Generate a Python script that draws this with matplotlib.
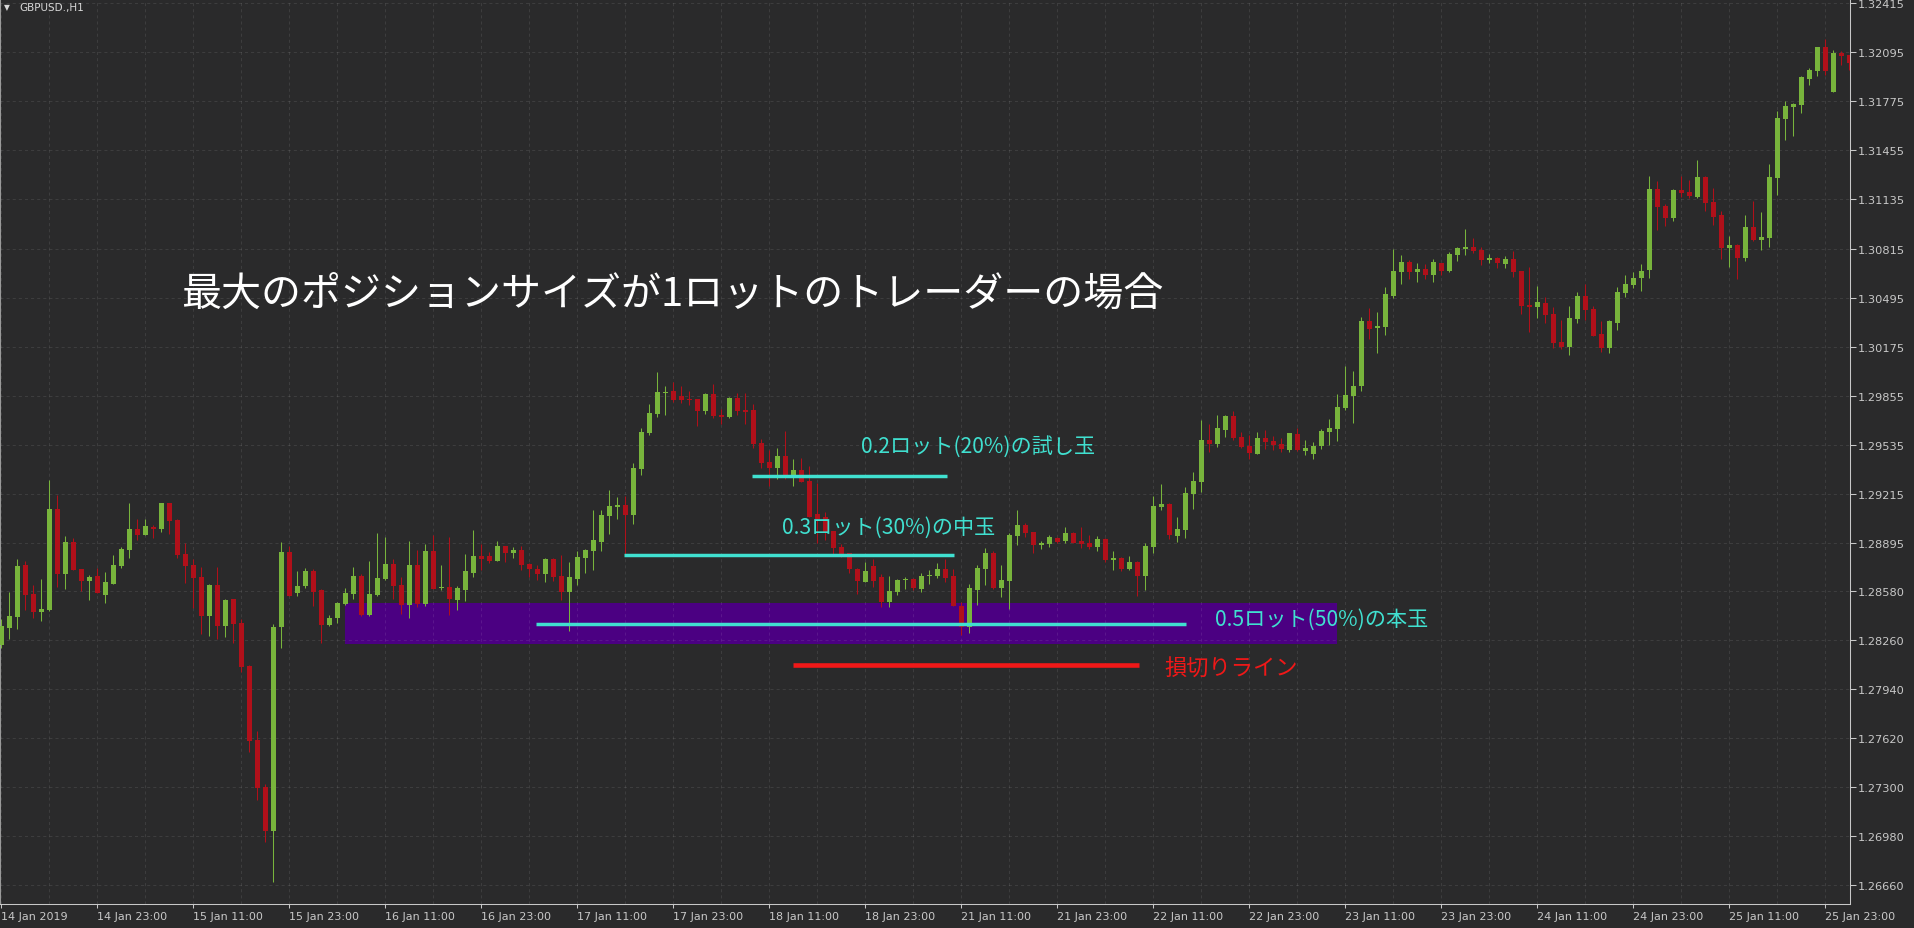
import matplotlib
matplotlib.use('Agg')
import matplotlib.pyplot as plt
import numpy as np

# GBPUSD H1, one bar per hour starting 14 Jan 2019 11:00 (weekend skipped)
opens = [
    1.28230, 1.28339, 1.28413, 1.28750, 1.28561, 1.28445, 1.28456, 1.29115, 1.28693, 1.28900,
    1.28724, 1.28647, 1.28678, 1.28556, 1.28628, 1.28743, 1.28850, 1.28985, 1.28948, 1.28998,
    1.28985, 1.29154, 1.29043, 1.28822, 1.28750, 1.28672, 1.28419, 1.28619, 1.28354, 1.28528,
    1.28371, 1.28091, 1.27608, 1.27301, 1.27016, 1.28345, 1.28835, 1.28569, 1.28613, 1.28711,
    1.28587, 1.28360, 1.28406, 1.28497, 1.28563, 1.28678, 1.28426, 1.28556, 1.28661, 1.28756,
    1.28619, 1.28491, 1.28750, 1.28497, 1.28841, 1.28598, 1.28606, 1.28523, 1.28589, 1.28700,
    1.28809, 1.28809, 1.28778, 1.28874, 1.28830, 1.28848, 1.28756, 1.28724, 1.28693, 1.28789,
    1.28678, 1.28576, 1.28661, 1.28798, 1.28843, 1.28902, 1.29072, 1.29130, 1.29143, 1.29078,
    1.29378, 1.29613, 1.29737, 1.29872, 1.29885, 1.29853, 1.29835, 1.29833, 1.29757, 1.29866,
    1.29724, 1.29718, 1.29840, 1.29761, 1.29761, 1.29546, 1.29424, 1.29385, 1.29461, 1.29326,
    1.29370, 1.29298, 1.29083, 1.29063, 1.28970, 1.28867, 1.28828, 1.28724, 1.28641, 1.28743,
    1.28672, 1.28510, 1.28576, 1.28650, 1.28659, 1.28595, 1.28676, 1.28676, 1.28724, 1.28678,
    1.28482, 1.28347, 1.28589, 1.28724, 1.28828, 1.28600, 1.28646, 1.28941, 1.29011, 1.28965,
    1.28882, 1.28889, 1.28926, 1.28907, 1.28959, 1.28907, 1.28895, 1.28869, 1.28922, 1.28784,
    1.28798, 1.28726, 1.28769, 1.28680, 1.28869, 1.29130, 1.29148, 1.28941, 1.28980, 1.29215,
    1.29294, 1.29566, 1.29539, 1.29633, 1.29722, 1.29587, 1.29528, 1.29476, 1.29579, 1.29559,
    1.29539, 1.29502, 1.29605, 1.29496, 1.29474, 1.29526, 1.29618, 1.29637, 1.29774, 1.29853,
    1.29918, 1.30342, 1.30296, 1.30303, 1.30505, 1.30662, 1.30727, 1.30662, 1.30681, 1.30642,
    1.30720, 1.30668, 1.30773, 1.30812, 1.30825, 1.30805, 1.30740, 1.30753, 1.30714, 1.30747,
    1.30668, 1.30446, 1.30433, 1.30460, 1.30388, 1.30205, 1.30174, 1.30355, 1.30505, 1.30420,
    1.30257, 1.30166, 1.30329, 1.30525, 1.30577, 1.30623, 1.30675, 1.31203, 1.31092, 1.31014,
    1.31197, 1.31184, 1.31151, 1.31282, 1.31119, 1.31034, 1.30818, 1.30838, 1.30753, 1.30955,
    1.30871, 1.30884, 1.31275, 1.31660, 1.31738, 1.31751, 1.31921, 1.31973, 1.32130, 1.31836,
    1.32091, 1.32078]
highs = [
    1.28398, 1.28576, 1.28789, 1.28776, 1.28619, 1.28659, 1.29305, 1.29207, 1.28939, 1.28926,
    1.28724, 1.28685, 1.28732, 1.28704, 1.28815, 1.28867, 1.29154, 1.29050, 1.29050, 1.29011,
    1.29154, 1.29154, 1.29050, 1.28893, 1.28789, 1.28737, 1.28626, 1.28737, 1.28528, 1.28528,
    1.28398, 1.28097, 1.27667, 1.27321, 1.28365, 1.28900, 1.28874, 1.28711, 1.28730, 1.28724,
    1.28593, 1.28424, 1.28509, 1.28600, 1.28737, 1.28691, 1.28776, 1.28959, 1.28933, 1.28789,
    1.28670, 1.28907, 1.28848, 1.28887, 1.28946, 1.28750, 1.28933, 1.28613, 1.28822, 1.28978,
    1.28887, 1.28835, 1.28907, 1.28874, 1.28867, 1.28874, 1.28763, 1.28750, 1.28796, 1.28796,
    1.28815, 1.28769, 1.28841, 1.28854, 1.29109, 1.29109, 1.29239, 1.29194, 1.29200, 1.29415,
    1.29644, 1.29800, 1.30009, 1.29918, 1.29942, 1.29918, 1.29885, 1.29833, 1.29872, 1.29931,
    1.29768, 1.29846, 1.29872, 1.29872, 1.29800, 1.29572, 1.29500, 1.29513, 1.29624, 1.29442,
    1.29448, 1.29396, 1.29287, 1.29094, 1.28974, 1.28887, 1.28828, 1.28728, 1.28769, 1.28789,
    1.28689, 1.28678, 1.28661, 1.28672, 1.28665, 1.28698, 1.28717, 1.28763, 1.28789, 1.28724,
    1.28509, 1.28626, 1.28750, 1.28861, 1.28841, 1.28750, 1.28959, 1.29109, 1.29024, 1.28965,
    1.28907, 1.28946, 1.28933, 1.28998, 1.28963, 1.28998, 1.28946, 1.28937, 1.28928, 1.28841,
    1.28804, 1.28809, 1.28776, 1.28895, 1.29200, 1.29278, 1.29154, 1.29063, 1.29259, 1.29357,
    1.29696, 1.29670, 1.29729, 1.29729, 1.29755, 1.29620, 1.29600, 1.29620, 1.29633, 1.29594,
    1.29581, 1.29611, 1.29644, 1.29566, 1.29552, 1.29637, 1.29703, 1.29866, 1.30048, 1.30016,
    1.30368, 1.30427, 1.30401, 1.30564, 1.30812, 1.30773, 1.30740, 1.30720, 1.30714, 1.30747,
    1.30720, 1.30792, 1.30825, 1.30942, 1.30884, 1.30825, 1.30779, 1.30760, 1.30766, 1.30799,
    1.30668, 1.30694, 1.30570, 1.30499, 1.30433, 1.30349, 1.30440, 1.30531, 1.30584, 1.30440,
    1.30342, 1.30349, 1.30564, 1.30642, 1.30662, 1.30714, 1.31288, 1.31256, 1.31105, 1.31203,
    1.31288, 1.31262, 1.31393, 1.31288, 1.31210, 1.31060, 1.30897, 1.30844, 1.31034, 1.31125,
    1.31053, 1.31366, 1.31712, 1.31778, 1.31764, 1.31941, 1.31993, 1.32130, 1.32182, 1.32110,
    1.32104, 1.32078]
lows = [
    1.28208, 1.28267, 1.28332, 1.28456, 1.28404, 1.28385, 1.28450, 1.28608, 1.28593, 1.28715,
    1.28578, 1.28522, 1.28565, 1.28502, 1.28628, 1.28730, 1.28796, 1.28913, 1.28948, 1.28926,
    1.28965, 1.28952, 1.28796, 1.28632, 1.28469, 1.28300, 1.28287, 1.28267, 1.28280, 1.28241,
    1.28054, 1.27530, 1.27217, 1.26942, 1.26681, 1.28208, 1.28550, 1.28548, 1.28600, 1.28484,
    1.28241, 1.28354, 1.28373, 1.28491, 1.28528, 1.28419, 1.28419, 1.28550, 1.28654, 1.28530,
    1.28430, 1.28406, 1.28478, 1.28484, 1.28595, 1.28589, 1.28426, 1.28458, 1.28517, 1.28674,
    1.28719, 1.28761, 1.28778, 1.28771, 1.28798, 1.28715, 1.28674, 1.28654, 1.28641, 1.28647,
    1.28523, 1.28321, 1.28621, 1.28700, 1.28719, 1.28843, 1.28954, 1.29052, 1.28817, 1.29019,
    1.29339, 1.29600, 1.29718, 1.29731, 1.29815, 1.29809, 1.29796, 1.29659, 1.29737, 1.29711,
    1.29672, 1.29711, 1.29731, 1.29672, 1.29513, 1.29385, 1.29267, 1.29313, 1.29313, 1.29267,
    1.29294, 1.29065, 1.28893, 1.28915, 1.28807, 1.28804, 1.28700, 1.28563, 1.28637, 1.28606,
    1.28478, 1.28478, 1.28556, 1.28591, 1.28587, 1.28576, 1.28628, 1.28663, 1.28641, 1.28480,
    1.28295, 1.28308, 1.28491, 1.28619, 1.28593, 1.28541, 1.28463, 1.28882, 1.28935, 1.28830,
    1.28856, 1.28869, 1.28895, 1.28895, 1.28893, 1.28863, 1.28856, 1.28843, 1.28771, 1.28719,
    1.28713, 1.28719, 1.28550, 1.28589, 1.28830, 1.29111, 1.28922, 1.28902, 1.28928, 1.29117,
    1.29228, 1.29489, 1.29522, 1.29587, 1.29567, 1.29515, 1.29444, 1.29476, 1.29509, 1.29502,
    1.29489, 1.29489, 1.29496, 1.29470, 1.29442, 1.29507, 1.29533, 1.29559, 1.29761, 1.29677,
    1.29885, 1.30225, 1.30133, 1.30251, 1.30492, 1.30584, 1.30616, 1.30597, 1.30616, 1.30597,
    1.30642, 1.30662, 1.30734, 1.30773, 1.30786, 1.30707, 1.30720, 1.30688, 1.30688, 1.30629,
    1.30388, 1.30270, 1.30362, 1.30329, 1.30166, 1.30159, 1.30120, 1.30329, 1.30349, 1.30246,
    1.30140, 1.30133, 1.30283, 1.30499, 1.30557, 1.30538, 1.30623, 1.30936, 1.30962, 1.30995,
    1.31153, 1.31145, 1.31145, 1.31060, 1.30968, 1.30747, 1.30694, 1.30616, 1.30734, 1.30864,
    1.30805, 1.30825, 1.31164, 1.31523, 1.31549, 1.31699, 1.31882, 1.31941, 1.31947, 1.31836,
    1.32012, 1.31980]
closes = [
    1.28354, 1.28417, 1.28743, 1.28556, 1.28445, 1.28463, 1.29115, 1.28693, 1.28900, 1.28719,
    1.28647, 1.28672, 1.28569, 1.28639, 1.28750, 1.28854, 1.28985, 1.28948, 1.29004, 1.28987,
    1.29154, 1.29039, 1.28817, 1.28743, 1.28667, 1.28419, 1.28619, 1.28354, 1.28522, 1.28367,
    1.28086, 1.27603, 1.27297, 1.27016, 1.28345, 1.28835, 1.28550, 1.28613, 1.28711, 1.28576,
    1.28360, 1.28404, 1.28502, 1.28567, 1.28678, 1.28426, 1.28561, 1.28665, 1.28756, 1.28615,
    1.28491, 1.28750, 1.28497, 1.28841, 1.28595, 1.28606, 1.28530, 1.28600, 1.28711, 1.28809,
    1.28791, 1.28778, 1.28874, 1.28830, 1.28848, 1.28752, 1.28726, 1.28693, 1.28789, 1.28674,
    1.28576, 1.28672, 1.28802, 1.28848, 1.28913, 1.29076, 1.29135, 1.29143, 1.29078, 1.29383,
    1.29618, 1.29742, 1.29879, 1.29879, 1.29828, 1.29828, 1.29828, 1.29757, 1.29866, 1.29724,
    1.29718, 1.29840, 1.29757, 1.29750, 1.29541, 1.29417, 1.29385, 1.29461, 1.29326, 1.29370,
    1.29294, 1.29065, 1.29052, 1.28965, 1.28861, 1.28824, 1.28726, 1.28647, 1.28711, 1.28647,
    1.28510, 1.28580, 1.28654, 1.28659, 1.28602, 1.28678, 1.28685, 1.28724, 1.28667, 1.28480,
    1.28347, 1.28600, 1.28730, 1.28828, 1.28600, 1.28652, 1.28946, 1.29011, 1.28961, 1.28882,
    1.28893, 1.28935, 1.28902, 1.28959, 1.28895, 1.28889, 1.28869, 1.28922, 1.28784, 1.28798,
    1.28726, 1.28769, 1.28680, 1.28876, 1.29135, 1.29148, 1.28948, 1.28985, 1.29220, 1.29298,
    1.29566, 1.29539, 1.29646, 1.29722, 1.29581, 1.29522, 1.29483, 1.29579, 1.29554, 1.29535,
    1.29509, 1.29611, 1.29502, 1.29513, 1.29526, 1.29624, 1.29644, 1.29781, 1.29859, 1.29918,
    1.30342, 1.30290, 1.30309, 1.30518, 1.30668, 1.30727, 1.30662, 1.30681, 1.30642, 1.30727,
    1.30668, 1.30779, 1.30818, 1.30825, 1.30799, 1.30740, 1.30753, 1.30720, 1.30747, 1.30662,
    1.30440, 1.30435, 1.30466, 1.30381, 1.30199, 1.30174, 1.30362, 1.30505, 1.30414, 1.30246,
    1.30166, 1.30342, 1.30531, 1.30584, 1.30623, 1.30668, 1.31203, 1.31086, 1.31014, 1.31197,
    1.31179, 1.31158, 1.31282, 1.31112, 1.31021, 1.30818, 1.30838, 1.30753, 1.30955, 1.30871,
    1.30890, 1.31282, 1.31667, 1.31745, 1.31758, 1.31934, 1.31980, 1.32130, 1.31973, 1.32091,
    1.32071, 1.32027]

tick_labels = ["14 Jan 2019", "14 Jan 23:00", "15 Jan 11:00", "15 Jan 23:00", "16 Jan 11:00",
               "16 Jan 23:00", "17 Jan 11:00", "17 Jan 23:00", "18 Jan 11:00", "18 Jan 23:00",
               "21 Jan 11:00", "21 Jan 23:00", "22 Jan 11:00", "22 Jan 23:00", "23 Jan 11:00",
               "23 Jan 23:00", "24 Jan 11:00", "24 Jan 23:00", "25 Jan 11:00", "25 Jan 23:00"]
price_ticks = [1.32415, 1.32095, 1.31775, 1.31455, 1.31135, 1.30815, 1.30495, 1.30175,
               1.29855, 1.29535, 1.29215, 1.28895, 1.28580, 1.28260, 1.27940, 1.27620,
               1.27300, 1.26980, 1.26660]

# drawn objects on the chart (bar index, price)
lot_lines = [(93.8, 118.2, 1.29331), (77.8, 119.1, 1.28815), (66.8, 148.1, 1.28365)]
lot_texts = ["0.2ロット(20%)の試し玉", "0.3ロット(30%)の中玉", "0.5ロット(50%)の本玉"]
lot_text_pos = [(107.4, 1.29526), (97.6, 1.28998), (151.7, 1.28398)]
stop_line = (98.9, 142.2, 1.28100)
stop_text = "損切りライン"
stop_text_pos = (145.3, 1.28078)
zone = (42.9, 166.9, 1.28234, 1.28504)
title = "最大のポジションサイズが1ロットのトレーダーの場合"
title_pos = (22.4, 1.30520)

bg = '#2a2a2b'
up_col = '#78b43c'
down_col = '#b0101a'
cyan = '#40e0d0'
red = '#f01818'
axis_col = '#c8c8c8'

plt.rcParams['font.family'] = ['DejaVu Sans']
plt.rcParams['lines.scale_dashes'] = False
jp = ['Noto Sans CJK JP', 'DejaVu Sans']

o = np.array(opens); h = np.array(highs); l = np.array(lows); c = np.array(closes)
x = np.arange(len(o))
cols = np.where(c >= o, up_col, down_col)

fig = plt.figure(figsize=(19.15, 9.29), dpi=100, facecolor=bg)
ax = fig.add_axes([0, 24 / 929, 1850 / 1915, 905 / 929])
ax.set_facecolor(bg)

ax.add_patch(plt.Rectangle((zone[0], zone[2]), zone[1] - zone[0], zone[3] - zone[2],
                           facecolor='#4b0082', edgecolor='none', zorder=0.4))

ax.vlines(x, l, h, colors=cols, linewidth=0.75, zorder=2)
body = np.maximum(np.abs(c - o), 0.00008)
ax.bar(x, body, width=0.625, bottom=np.minimum(o, c), color=cols, linewidth=0, zorder=3)

for (x0, x1, lvl) in lot_lines:
    ax.plot([x0, x1], [lvl, lvl], color=cyan, linewidth=2.5, solid_capstyle='butt', zorder=4)
for txt, (tx, ty) in zip(lot_texts, lot_text_pos):
    ax.text(tx, ty, txt, color=cyan, fontsize=15.2, family=jp, va='center', ha='left', zorder=5)
ax.plot([stop_line[0], stop_line[1]], [stop_line[2], stop_line[2]], color=red,
        linewidth=3.3, solid_capstyle='butt', zorder=4)
ax.text(stop_text_pos[0], stop_text_pos[1], stop_text, color=red, fontsize=16,
        family=jp, va='center', ha='left', zorder=5)
ax.text(title_pos[0], title_pos[1], title, color='white', fontsize=28.8, family=jp,
        va='center', ha='left', zorder=5)

ax.set_xlim(-0.1875, 231.0625)
ax.set_ylim(1.324431 - 905 * 0.00006525, 1.324431)

ax.set_xticks(range(0, 12 * len(tick_labels), 12))
ax.set_xticklabels(tick_labels, ha='left')
ax.set_xticks(range(0, len(o), 6), minor=True)
ax.set_yticks(price_ticks)
ax.set_yticklabels(['%.5f' % p for p in price_ticks])
ax.yaxis.tick_right()
ax.tick_params(axis='x', which='major', colors=axis_col, labelsize=8, length=3, width=0.75, pad=2)
ax.tick_params(axis='x', which='minor', length=0)
ax.tick_params(axis='y', colors=axis_col, labelsize=8.2, length=4, width=0.75, pad=1.5)
ax.set_axisbelow(True)
ax.grid(True, which='both', color='white', alpha=0.09, linewidth=0.75, linestyle=(0, (2.2, 2.2)))

ax.spines['top'].set_visible(False)
for s in ['left', 'right', 'bottom']:
    ax.spines[s].set_color(axis_col)
    ax.spines[s].set_linewidth(0.75)
ax.spines['left'].set_color('#9a9a9a')

fig.text(4 / 1915, 1 - 7.5 / 929, '▼', color='#d8d8d8', fontsize=5.5, va='center', ha='left')
fig.text(19 / 1915, 1 - 7.5 / 929, 'GBPUSD.,H1', color='#d8d8d8', fontsize=7.5, va='center', ha='left')

plt.savefig('out.png', dpi=100, facecolor=bg)
